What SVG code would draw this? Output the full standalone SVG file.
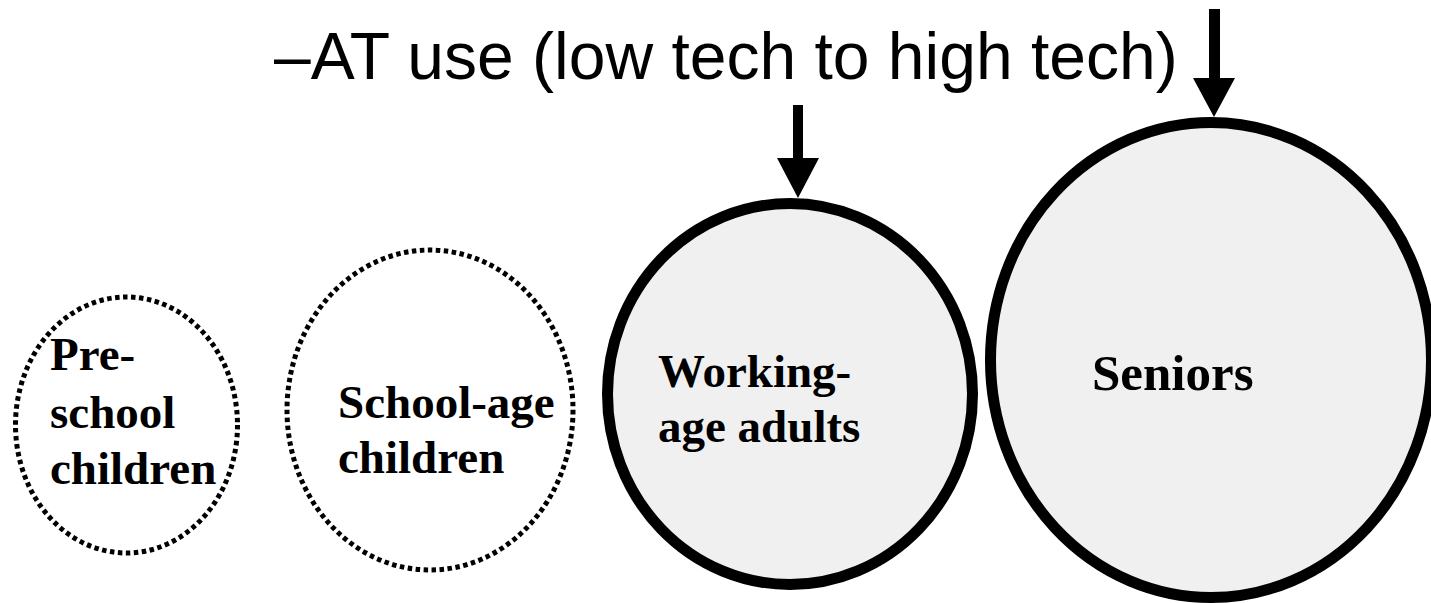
<svg xmlns="http://www.w3.org/2000/svg" width="1431" height="603" viewBox="0 0 1431 603">
<style>
.title{font-family:"Liberation Sans",Arial,sans-serif;font-size:66px;fill:#000}
.lbl{font-family:"Liberation Serif","Times New Roman",serif;font-weight:bold;font-size:47px;fill:#000}
.dotted{fill:#fff;stroke:#000;stroke-width:5;stroke-dasharray:4.5 3.5}
.solid{fill:#f0f0f0;stroke:#000;stroke-width:11}
.shaft{fill:#000}
</style>
<rect width="1431" height="603" fill="#fff"/>
<text class="title" x="274" y="79">–AT use (low tech to high tech)</text>
<g id="preschool">
<ellipse class="dotted" cx="126.5" cy="425" rx="111" ry="128"/>
<text class="lbl" x="50" y="370">Pre-</text>
<text class="lbl" x="50" y="428">school</text>
<text class="lbl" x="50" y="484">children</text>
</g>
<g id="schoolage">
<ellipse class="dotted" cx="430" cy="410" rx="143" ry="160"/>
<text class="lbl" x="338" y="418">School-age</text>
<text class="lbl" x="338" y="473">children</text>
</g>
<g id="working">
<ellipse class="solid" cx="790" cy="394" rx="182.5" ry="190.5"/>
<text class="lbl" x="658" y="387">Working-</text>
<text class="lbl" x="658" y="442">age adults</text>
</g>
<g id="seniors">
<ellipse class="solid" cx="1211" cy="360" rx="220.5" ry="237.5"/>
<text class="lbl" x="1092" y="390" style="font-size:51px">Seniors</text>
</g>
<g id="connectors">
<path class="shaft" d="M793,105 H803 V158 H819 L798,198 L777,158 H793 Z"/>
<path class="shaft" d="M1209,9 H1220 V78 H1235 L1214,117 L1193,78 H1209 Z"/>
</g>
</svg>
